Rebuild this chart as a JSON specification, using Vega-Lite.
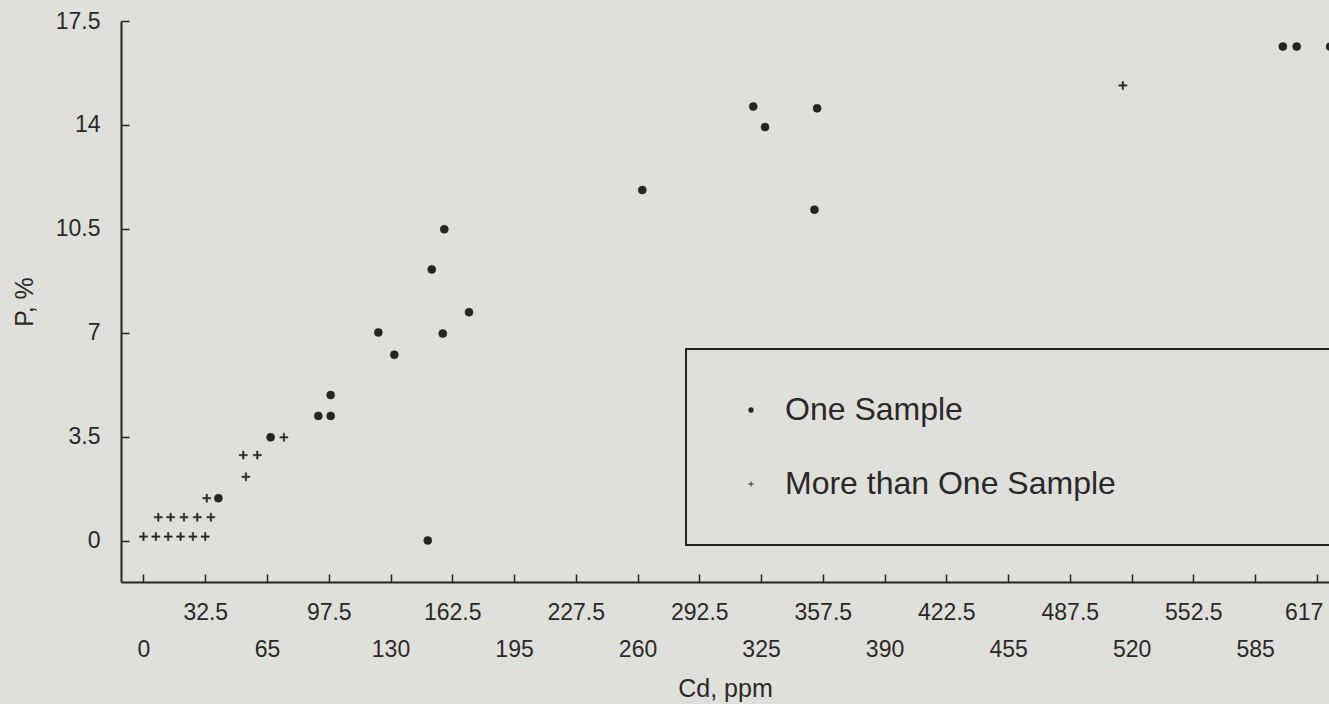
{
  "$schema": "https://vega.github.io/schema/vega-lite/v6.json",
  "width": 1208,
  "height": 561,
  "autosize": {"type": "none"},
  "padding": {"left": 121, "top": 21, "right": 0, "bottom": 122},
  "background": "#dfe0db",
  "config": {
    "view": {"stroke": null},
    "font": "Liberation Sans",
    "axis": {
      "domainColor": "#262324",
      "domainWidth": 2,
      "tickColor": "#262324",
      "tickWidth": 1.5,
      "tickSize": -8,
      "grid": false,
      "labelFont": "Liberation Sans",
      "labelFontSize": 23,
      "labelColor": "#2b2829",
      "titleFont": "Liberation Sans",
      "titleFontSize": 25,
      "titleFontWeight": "normal",
      "titleColor": "#2b2829"
    },
    "legend": {
      "strokeWidth": 2
    }
  },
  "data": {
    "values": [
      {"cd": 0, "p": 0.15, "type": "More than One Sample"},
      {"cd": 6.5, "p": 0.15, "type": "More than One Sample"},
      {"cd": 13, "p": 0.15, "type": "More than One Sample"},
      {"cd": 19.5, "p": 0.15, "type": "More than One Sample"},
      {"cd": 26, "p": 0.15, "type": "More than One Sample"},
      {"cd": 32.5, "p": 0.15, "type": "More than One Sample"},
      {"cd": 7.8, "p": 0.8, "type": "More than One Sample"},
      {"cd": 14.3, "p": 0.8, "type": "More than One Sample"},
      {"cd": 21.3, "p": 0.8, "type": "More than One Sample"},
      {"cd": 28.3, "p": 0.8, "type": "More than One Sample"},
      {"cd": 35.5, "p": 0.8, "type": "More than One Sample"},
      {"cd": 33.3, "p": 1.44, "type": "More than One Sample"},
      {"cd": 52.5, "p": 2.89, "type": "More than One Sample"},
      {"cd": 59.9, "p": 2.89, "type": "More than One Sample"},
      {"cd": 53.9, "p": 2.16, "type": "More than One Sample"},
      {"cd": 73.9, "p": 3.49, "type": "More than One Sample"},
      {"cd": 515.4, "p": 15.33, "type": "More than One Sample"},
      {"cd": 39.4, "p": 1.44, "type": "One Sample"},
      {"cd": 66.9, "p": 3.49, "type": "One Sample"},
      {"cd": 92.0, "p": 4.21, "type": "One Sample"},
      {"cd": 98.5, "p": 4.21, "type": "One Sample"},
      {"cd": 98.5, "p": 4.91, "type": "One Sample"},
      {"cd": 123.6, "p": 7.02, "type": "One Sample"},
      {"cd": 132.0, "p": 6.27, "type": "One Sample"},
      {"cd": 151.7, "p": 9.14, "type": "One Sample"},
      {"cd": 158.3, "p": 10.49, "type": "One Sample"},
      {"cd": 157.5, "p": 6.98, "type": "One Sample"},
      {"cd": 171.3, "p": 7.7, "type": "One Sample"},
      {"cd": 149.6, "p": 0.02, "type": "One Sample"},
      {"cd": 262.5, "p": 11.81, "type": "One Sample"},
      {"cd": 320.9, "p": 14.62, "type": "One Sample"},
      {"cd": 327.1, "p": 13.93, "type": "One Sample"},
      {"cd": 354.5, "p": 14.56, "type": "One Sample"},
      {"cd": 353.1, "p": 11.15, "type": "One Sample"},
      {"cd": 599.6, "p": 16.64, "type": "One Sample"},
      {"cd": 606.9, "p": 16.64, "type": "One Sample"},
      {"cd": 624.5, "p": 16.64, "type": "One Sample"}
    ]
  },
  "mark": {
    "type": "point",
    "filled": true,
    "fill": "#262324",
    "stroke": "#262324",
    "strokeWidth": 0.6,
    "opacity": 1,
    "size": 64
  },
  "encoding": {
    "x": {
      "field": "cd",
      "type": "quantitative",
      "scale": {"domain": [-11.84, 623.9], "nice": false, "zero": false},
      "axis": {
        "title": "Cd, ppm",
        "values": [0, 32.5, 65, 97.5, 130, 162.5, 195, 227.5, 260, 292.5, 325, 357.5, 390, 422.5, 455, 487.5, 520, 552.5, 585, 617.5],
        "labelExpr": "datum.value == 617.5 ? '617' : format(datum.value, '.1~f')",
        "labelPadding": {"condition": {"test": "datum.value % 65 == 0", "value": 64}, "value": 27},
        "labelAlign": {"condition": {"test": "datum.value == 617.5", "value": "right"}, "value": "center"},
        "labelOffset": {"condition": {"test": "datum.value == 617.5", "value": 6}, "value": 0},
        "labelFlush": false,
        "labelOverlap": false,
        "titlePadding": 15
      }
    },
    "y": {
      "field": "p",
      "type": "quantitative",
      "scale": {"domain": [-1.38, 17.5], "nice": false, "zero": false},
      "axis": {
        "title": "P, %",
        "values": [0, 3.5, 7, 10.5, 14, 17.5],
        "labelExpr": "format(datum.value, '.1~f')",
        "labelPadding": 29,
        "labelFlush": false,
        "labelOverlap": false,
        "titlePadding": 18
      }
    },
    "shape": {
      "field": "type",
      "type": "nominal",
      "scale": {
        "domain": ["One Sample", "More than One Sample"],
        "range": ["circle", "M-1,-0.16H-0.16V-1H0.16V-0.16H1V0.16H0.16V1H-0.16V0.16H-1Z"]
      },
      "legend": {
        "title": null,
        "orient": "none",
        "legendX": 565,
        "legendY": 328,
        "padding": 45,
        "strokeColor": "#262324",
        "fillColor": null,
        "symbolSize": 28,
        "symbolFillColor": "#262324",
        "symbolStrokeColor": "#262324",
        "symbolStrokeWidth": 0.8,
        "symbolOffset": 4,
        "labelOffset": 18,
        "labelFont": "Liberation Sans",
        "labelFontSize": 32,
        "labelColor": "#2b2829",
        "labelLimit": 2000,
        "rowPadding": 42,
        "labelExpr": "datum.label == 'More than One Sample' ? datum.label + '\u00a0\u00a0\u00a0\u00a0\u00a0\u00a0\u00a0\u00a0\u00a0\u00a0\u00a0\u00a0\u00a0\u00a0\u00a0\u00a0\u00a0\u00a0\u00a0\u00a0\u00a0\u00a0\u200b' : datum.label"
      }
    }
  }
}
